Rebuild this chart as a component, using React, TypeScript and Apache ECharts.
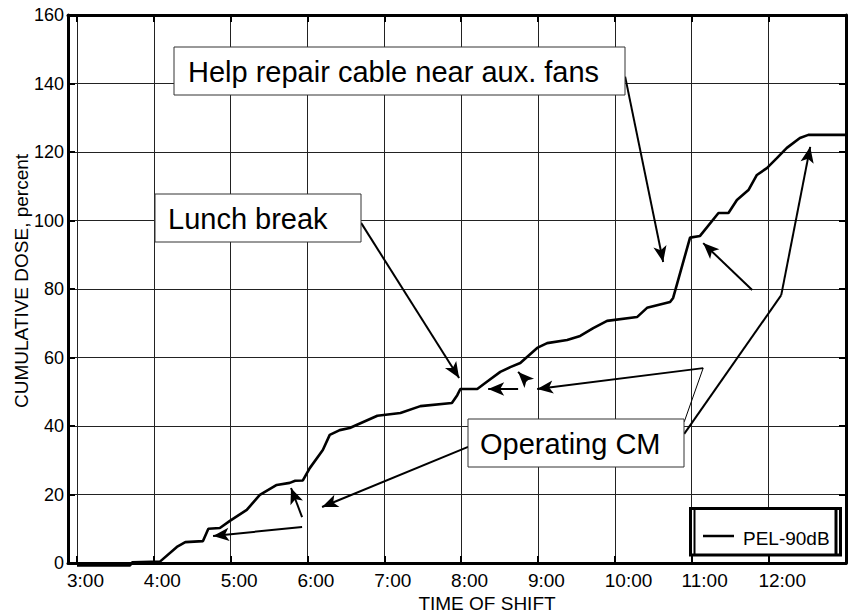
import React, { useEffect, useRef } from "react";
import * as echarts from "echarts";

// ---- data (time of shift in decimal hours, cumulative dose in percent) ----
const times = [
  3.0, 3.69, 3.72, 4.08, 4.3, 4.41, 4.64, 4.71, 4.86, 4.99, 5.21, 5.38, 5.6, 5.77, 5.84, 5.94,
  6.03, 6.2, 6.29, 6.42, 6.55, 6.91, 7.21, 7.47, 7.88, 7.95, 7.99, 8.21, 8.34, 8.51, 8.64, 8.77,
  8.99, 9.12, 9.38, 9.55, 9.72, 9.9, 10.29, 10.42, 10.72, 10.76, 10.98, 11.11, 11.35, 11.48,
  11.59, 11.74, 11.85, 11.98, 12.11, 12.24, 12.41, 12.52, 13.01,
];
const doses = [
  -0.7, -0.7, 0.2, 0.4, 4.7, 6.1, 6.4, 10.0, 10.2, 12.3, 15.5, 19.9, 22.8, 23.4, 24.0, 24.1,
  27.7, 33.0, 37.4, 38.8, 39.4, 43.0, 43.8, 45.8, 46.7, 49.0, 50.8, 50.8, 53.0, 55.8, 57.2, 58.4,
  62.8, 64.2, 65.1, 66.3, 68.6, 70.7, 71.8, 74.5, 76.2, 77.4, 95.0, 95.5, 102.2, 102.2,
  106.0, 108.9, 113.3, 115.3, 118.2, 121.2, 124.1, 125.0, 125.0,
];
const hourTicks = [3, 4, 5, 6, 7, 8, 9, 10, 11, 12];
const hourLabels = ["3:00", "4:00", "5:00", "6:00", "7:00", "8:00", "9:00", "10:00", "11:00", "12:00"];
const seriesName = "PEL-90dB";

// annotation arrows in data coordinates: [x1, y1, x2, y2, hasArrow, thin]
const arrows: [number, number, number, number, boolean, boolean][] = [
  [10.135, 142.0, 10.63, 87.9, true, false],
  [6.698, 99.3, 7.974, 54.0, true, false],
  [8.091, 33.9, 6.19, 16.35, true, false],
  [5.93, 13.4, 5.786, 21.9, true, false],
  [5.93, 10.5, 4.771, 7.9, true, false],
  [8.742, 50.8, 8.352, 50.8, true, false],
  [8.859, 53.1, 8.742, 55.8, true, false],
  [11.151, 56.9, 8.99, 50.8, true, false],
  [10.904, 41.2, 11.151, 56.9, false, true],
  [10.904, 37.7, 12.167, 78.2, false, false],
  [12.167, 78.2, 12.544, 121.5, true, false],
  [11.789, 79.7, 11.151, 93.4, true, false],
];

const XMIN = 2.883;
const XMAX = 13.01;
const FONT = "Liberation Sans, Arial, sans-serif";

export default function App() {
  const ref = useRef<HTMLDivElement>(null);
  useEffect(() => {
    if (!ref.current) return;
    const chart = echarts.init(ref.current, undefined, { renderer: "svg" });
    const data = times.map((t, i) => [t, doses[i]]);
    const arrowLines = arrows.map(([x1, y1, x2, y2, a, thin]) => [
      { coord: [x1, y1], symbol: "none", lineStyle: { width: thin ? 1 : 2 } },
      { coord: [x2, y2], symbol: a ? "arrow" : "none", symbolSize: a ? [10, 16] : 0 },
    ]);
    const axisLineStyle = { color: "#000", width: 3 };
    const tickStyle = { color: "#000", width: 2 };
    const box = (x: number, y: number, w: number, h: number, text: string, tx: number) => [
      {
        type: "rect",
        z: 100,
        shape: { x, y, width: w, height: h },
        style: { fill: "#fff", stroke: "#333", lineWidth: 1 },
      },
      {
        type: "text",
        z: 101,
        x: tx,
        y: y + h / 2 + 1,
        style: {
          text,
          fill: "#000",
          font: `29px ${FONT}`,
          align: "left",
          verticalAlign: "middle",
          textAlign: "left",
          textVerticalAlign: "middle",
        },
      },
    ];
    chart.setOption({
      animation: false,
      backgroundColor: "#fff",
      grid: [
        { left: 68, right: 2, top: 15, bottom: 53 },
        // helper grid, shifted 10px left, only carries the hour labels
        { left: 58, right: 12, top: 15, bottom: 53 },
      ],
      xAxis: [
        {
          type: "value",
          gridIndex: 0,
          position: "bottom",
          min: XMIN,
          max: XMAX,
          axisLine: { show: true, onZero: false, lineStyle: axisLineStyle },
          axisTick: { show: true, inside: true, length: 7, lineStyle: tickStyle, customValues: hourTicks },
          axisLabel: { show: false },
          splitLine: { show: true, lineStyle: { color: "#222", width: 1 } },
        },
        {
          type: "value",
          gridIndex: 0,
          position: "top",
          min: XMIN,
          max: XMAX,
          axisLine: { show: true, onZero: false, lineStyle: axisLineStyle },
          axisTick: { show: true, inside: true, length: 7, lineStyle: tickStyle, customValues: hourTicks },
          axisLabel: { show: false },
          splitLine: { show: false },
        },
        {
          type: "value",
          gridIndex: 1,
          position: "bottom",
          min: XMIN,
          max: XMAX,
          axisLine: { show: false, onZero: false },
          axisTick: { show: false, customValues: hourTicks },
          axisLabel: {
            show: true,
            customValues: hourTicks,
            formatter: (v: number) => hourLabels[hourTicks.indexOf(Math.round(v))] ?? "",
            color: "#000",
            fontSize: 19,
            fontFamily: FONT,
            align: "left",
            margin: 8,
          },
          splitLine: { show: false },
        },
      ],
      yAxis: [
        {
          type: "value",
          gridIndex: 0,
          position: "left",
          min: 0,
          max: 160,
          interval: 20,
          axisLine: { show: true, onZero: false, lineStyle: axisLineStyle },
          axisTick: { show: true, inside: true, length: 7, lineStyle: tickStyle },
          axisLabel: { color: "#000", fontSize: 18, fontFamily: FONT, margin: 4 },
          splitLine: { show: true, lineStyle: { color: "#222", width: 1 } },
        },
        {
          type: "value",
          gridIndex: 0,
          position: "right",
          min: 0,
          max: 160,
          interval: 20,
          axisLine: { show: true, onZero: false, lineStyle: axisLineStyle },
          axisTick: { show: true, inside: true, length: 7, lineStyle: tickStyle },
          axisLabel: { show: false },
          splitLine: { show: false },
        },
        {
          type: "value",
          gridIndex: 1,
          min: 0,
          max: 160,
          show: false,
        },
      ],
      series: [
        {
          name: seriesName,
          type: "line",
          data,
          showSymbol: false,
          symbol: "none",
          clip: false,
          xAxisIndex: 0,
          yAxisIndex: 0,
          lineStyle: { color: "#000", width: 2.6 },
          z: 5,
          markLine: {
            silent: true,
            animation: false,
            label: { show: false },
            lineStyle: { color: "#000", width: 2, type: "solid" },
            emphasis: { disabled: true },
            data: arrowLines,
          },
        },
      ],
      graphic: [
        ...box(174, 47, 451, 48, "Help repair cable near aux. fans", 188),
        ...box(155, 194, 206, 48, "Lunch break", 168),
        ...box(468, 419, 216, 48, "Operating CM", 480),
        {
          type: "rect",
          z: 100,
          shape: { x: 690.5, y: 508.5, width: 150, height: 46.5 },
          style: { fill: "#fff", stroke: "#000", lineWidth: 3 },
        },
        {
          type: "line",
          z: 101,
          shape: { x1: 694.5, y1: 508, x2: 694.5, y2: 555 },
          style: { stroke: "#000", lineWidth: 2 },
        },
        {
          type: "line",
          z: 101,
          shape: { x1: 836, y1: 508, x2: 836, y2: 555 },
          style: { stroke: "#000", lineWidth: 3 },
        },
        {
          type: "line",
          z: 101,
          shape: { x1: 703, y1: 536, x2: 734, y2: 536 },
          style: { stroke: "#000", lineWidth: 2.5 },
        },
        {
          type: "text",
          z: 101,
          x: 743,
          y: 538,
          style: {
            text: seriesName,
            fill: "#000",
            font: `19px ${FONT}`,
            align: "left",
            verticalAlign: "middle",
            textAlign: "left",
            textVerticalAlign: "middle",
          },
        },
        {
          type: "text",
          z: 101,
          x: 487,
          y: 603,
          style: {
            text: "TIME OF SHIFT",
            fill: "#000",
            font: `19px ${FONT}`,
            align: "center",
            verticalAlign: "middle",
            textAlign: "center",
            textVerticalAlign: "middle",
          },
        },
        {
          type: "text",
          z: 101,
          x: 21,
          y: 281,
          rotation: Math.PI / 2,
          style: {
            text: "CUMULATIVE DOSE, percent",
            fill: "#000",
            font: `19px ${FONT}`,
            align: "center",
            verticalAlign: "middle",
            textAlign: "center",
            textVerticalAlign: "middle",
          },
        },
      ],
    });
    return () => chart.dispose();
  }, []);
  return (
    <div
      ref={ref}
      style={{ position: "fixed", left: 0, top: 0, width: 848, height: 616, background: "#fff" }}
    />
  );
}
